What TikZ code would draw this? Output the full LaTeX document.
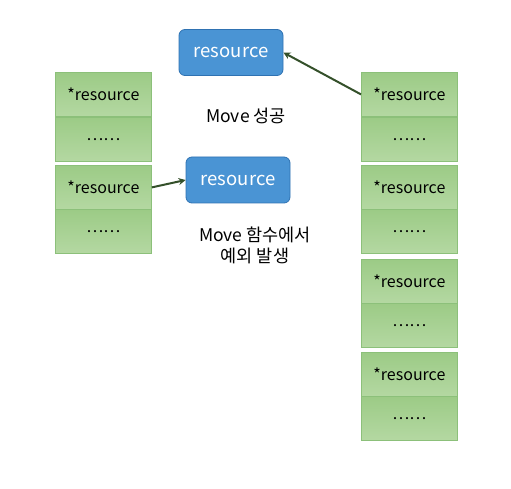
\documentclass[tikz,border=0pt]{standalone}
\usepackage{fontspec}
\setmainfont{Noto Sans CJK KR}
\usetikzlibrary{arrows.meta}
\definecolor{gtop}{HTML}{9CCB86}
\definecolor{gbot}{HTML}{B4D8A2}
\definecolor{gline}{HTML}{8CC07A}
\definecolor{bfill}{HTML}{4A94D4}
\definecolor{bline}{HTML}{2F72B2}
\definecolor{arr}{HTML}{34502A}
\tikzset{
  cell/.style={draw=gline, line width=0.8pt, top color=gtop, bottom color=gbot, minimum width=96pt, minimum height=44pt, inner sep=0pt, anchor=north west, font=\fontsize{16}{18}\selectfont},
  res/.style={draw=bline, line width=0.8pt, fill=bfill, rounded corners=6pt, text=white, minimum width=104pt, minimum height=46pt, inner sep=0pt, font=\fontsize{18.5}{20}\selectfont},
  lbl/.style={font=\fontsize{17.5}{21}\selectfont, align=center},
  conn/.style={draw=arr, line width=2pt, -{Stealth[length=7pt,width=7pt]}}
}
\begin{document}
\begin{tikzpicture}[x=1pt,y=-1pt]
\useasboundingbox (0,0) rectangle (511,489);
% left column
\node[cell] (l1a) at (55,72) {*resource};
\node[cell] (l1b) at (55,117) {\dots\dots};
\node[cell] (l2a) at (55,165) {*resource};
\node[cell] (l2b) at (55,209) {\dots\dots};
% right column
\node[cell] (r1a) at (361,72) {*resource};
\node[cell] (r1b) at (361,117) {\dots\dots};
\node[cell] (r2a) at (361,165) {*resource};
\node[cell] (r2b) at (361,209) {\dots\dots};
\node[cell] (r3a) at (361,259) {*resource};
\node[cell] (r3b) at (361,303) {\dots\dots};
\node[cell] (r4a) at (361,352) {*resource};
\node[cell] (r4b) at (361,396) {\dots\dots};
% blue boxes
\node[res] (b1) at (231,52.5) {resource};
\node[res] (b2) at (238,180) {resource};
% labels
\node[lbl] (t1) at (246,116) {Move 성공};
\node[lbl] (t2) at (255,245.5) {Move 함수에서\\예외 발생};
% connectors
\draw[conn] (r1a.west) -- (b1.east);
\draw[conn] (l2a.east) -- (b2.west);
\end{tikzpicture}
\end{document}
